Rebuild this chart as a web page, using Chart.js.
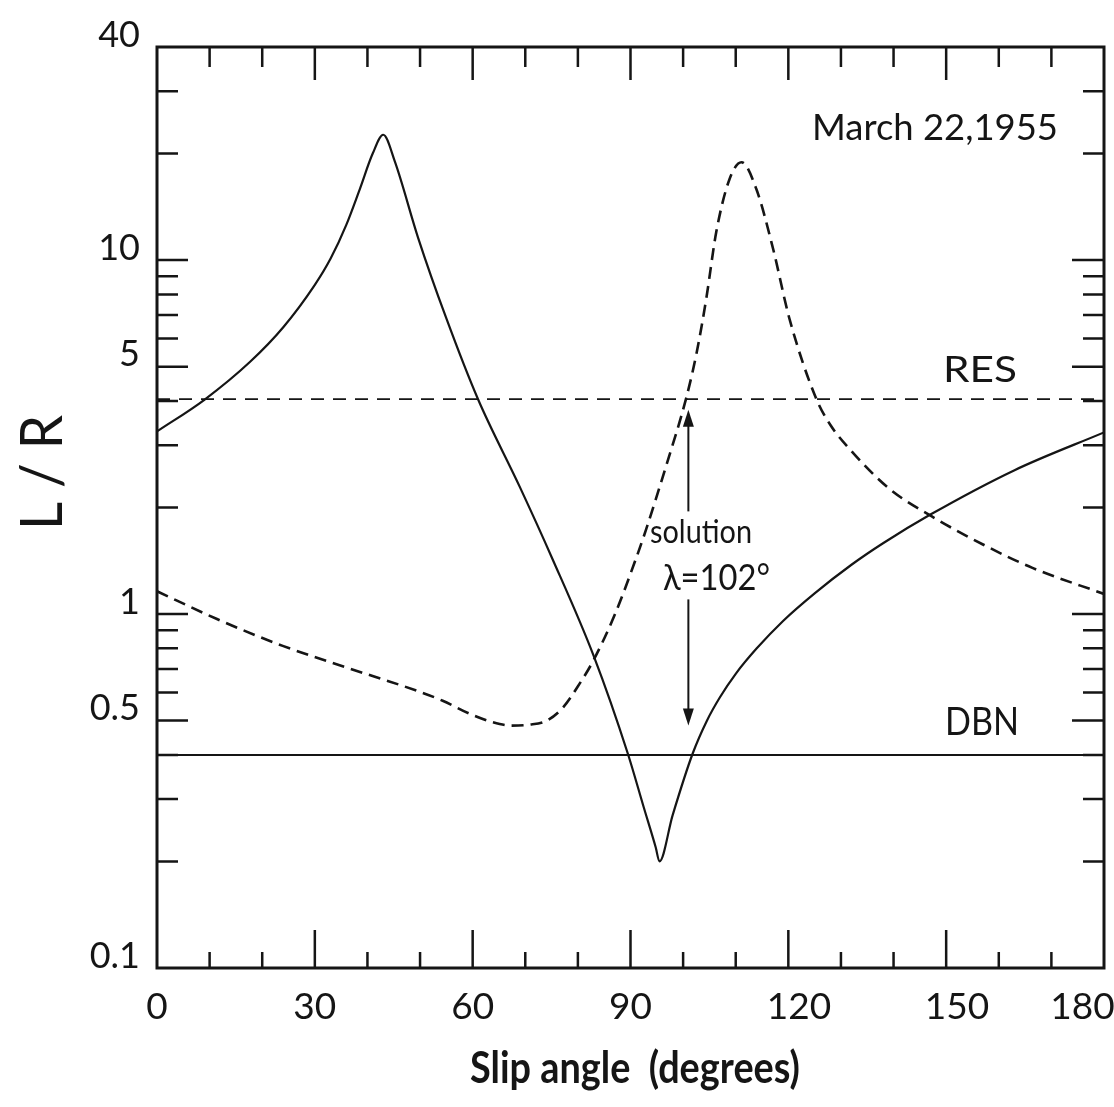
<!DOCTYPE html>
<html><head><meta charset="utf-8">
<script src="https://cdn.jsdelivr.net/npm/chart.js@4.4.1/dist/chart.umd.min.js"></script>
<style>html,body{margin:0;padding:0;background:#fff;} #wrap{width:1114px;height:1107px;}</style>
</head><body><div id="wrap"><canvas id="c" width="1114" height="1107"></canvas></div>
<script>
// ---- data ----
const solidAngle = [0, 9, 17.7, 24, 30, 33, 36, 38.5, 41, 43, 45.2, 49.6, 55, 61, 69, 75, 83, 89.5, 92.5, 94.8, 95.5, 98, 101.8, 104.5, 107, 110, 114, 119, 125, 132, 138, 147, 163, 180];
const solidLR    = [3.28, 4.03, 5.16, 6.46, 8.51, 10.1, 12.6, 15.8, 20.0, 22.6, 19.0, 11.6, 6.84, 4.05, 2.28, 1.45, 0.762, 0.403, 0.285, 0.219, 0.2, 0.27, 0.403, 0.499, 0.582, 0.678, 0.80, 0.956, 1.144, 1.378, 1.585, 1.91, 2.55, 3.26];
const dashedAngle = [0, 11.4, 23.9, 36.7, 49.4, 54.3, 59.4, 63.8, 67.4, 70.8, 74.1, 77.1, 80.3, 82.9, 87, 91.1, 93, 96.8, 100.6, 102.6, 104.4, 106.3, 108.8, 111.1, 113.9, 117.1, 120.2, 125.3, 128, 131.6, 139.2, 147.2, 156.9, 166.4, 180];
const dashedLR    = [1.16, 0.968, 0.813, 0.701, 0.607, 0.569, 0.523, 0.495, 0.484, 0.487, 0.50, 0.543, 0.635, 0.737, 0.995, 1.442, 1.74, 2.63, 4.08, 5.5, 7.78, 12.0, 16.9, 18.9, 15.9, 10.77, 6.84, 4.06, 3.42, 2.93, 2.26, 1.89, 1.575, 1.35, 1.14];
const resLevel = 4.05;
const dbnLevel = 0.40;
const solutionAngle = 101;
const upArrowLR = [1.95, 3.78];     // tail, tip
const downArrowLR = [1.10, 0.484];  // tail, tip
const xTickValues = [10, 20, 30, 40, 50, 60, 70, 80, 90, 100, 110, 120, 130, 140, 150, 160, 170];
const xMajorValues = [30, 60, 90, 120, 150];
const xLabelText = {0: '0', 30: '30', 60: '60', 90: '90', 120: '\u2007120', 150: '\u2007150', 180: '180\u2007\u2007'};
const yTickValues = [0.1, 0.2, 0.3, 0.4, 0.5, 0.6, 0.7, 0.8, 0.9, 1, 2, 3, 4, 5, 6, 7, 8, 9, 10, 20, 30, 40];
const yMajorValues = [0.5, 1, 5, 10];
const yLabelText = {'0.1': '0.1', '0.5': '0.5', '1': '1', '5': '5', '10': '10', '40': '40'};

const INK = '#151515';
const FAM = "Lato, 'DejaVu Sans', sans-serif";

function fitText(ctx, txt, capH, width, weight) {
  const size = capH / 0.72;
  ctx.font = `${weight} ${size}px ${FAM}`;
  const w = ctx.measureText(txt).width;
  ctx.save();
  ctx.scale(width / w, 1);
  ctx.textBaseline = 'alphabetic';
  ctx.textAlign = 'left';
  ctx.fillText(txt, 0, 0);
  ctx.restore();
}
function textAt(ctx, txt, left, baseline, capH, width, weight) {
  ctx.save(); ctx.translate(left, baseline); fitText(ctx, txt, capH, width, weight); ctx.restore();
}

const framePlugin = {
  id: 'frameTicks',
  afterDatasetsDraw(chart) {
    const {ctx, chartArea: {left, right, top, bottom}, scales: {x, y}} = chart;
    ctx.save();
    ctx.strokeStyle = INK;
    ctx.lineWidth = 2.5;
    ctx.lineCap = 'butt';
    ctx.beginPath();
    xTickValues.forEach(v => {
      const px = x.getPixelForValue(v);
      const major = xMajorValues.includes(v);
      ctx.moveTo(px, bottom); ctx.lineTo(px, bottom - (major ? 38 : 16));
      ctx.moveTo(px, top); ctx.lineTo(px, top + (major ? 33 : 20));
    });
    yTickValues.forEach(v => {
      if (v === 0.1 || v === 40) return;
      const py = y.getPixelForValue(v);
      const major = yMajorValues.includes(v);
      ctx.moveTo(left, py); ctx.lineTo(left + (major ? 31 : 21), py);
      ctx.moveTo(right, py); ctx.lineTo(right - (major ? 32 : 21), py);
    });
    ctx.stroke();
    ctx.lineWidth = 3;
    ctx.strokeRect(left, top, right - left, bottom - top);

    // solution arrows
    const ax = x.getPixelForValue(solutionAngle);
    ctx.lineWidth = 2;
    const arrow = (fromV, toV) => {
      const y0 = y.getPixelForValue(fromV), y1 = y.getPixelForValue(toV);
      const dir = Math.sign(y1 - y0);
      ctx.beginPath(); ctx.moveTo(ax, y0); ctx.lineTo(ax, y1 - dir * 12); ctx.stroke();
      ctx.beginPath(); ctx.moveTo(ax, y1); ctx.lineTo(ax - 5.5, y1 - dir * 17); ctx.lineTo(ax + 5.5, y1 - dir * 17); ctx.closePath();
      ctx.fillStyle = INK; ctx.fill();
    };
    arrow(upArrowLR[0], upArrowLR[1]);
    arrow(downArrowLR[0], downArrowLR[1]);

    // text annotations
    ctx.fillStyle = INK;
    textAt(ctx, 'March 22,1955', 812, 140, 27, 246, 400);
    textAt(ctx, 'RES', 943, 382, 27, 74, 400);
    textAt(ctx, 'DBN', 945, 735, 28, 74, 400);
    textAt(ctx, 'solution', 650, 543, 23, 102, 400);
    textAt(ctx, '\u03BB=102\u00B0', 663, 590, 27, 107, 400);
    // axis titles
    ctx.save(); ctx.translate(62, 530); ctx.rotate(-Math.PI / 2);
    fitText(ctx, 'L / R', 42, 115, 400);
    ctx.restore();
    textAt(ctx, 'Slip angle  (degrees)', 470, 1083, 31, 330, 700);
    ctx.restore();
  }
};

const toXY = (xs, ys) => xs.map((a, i) => ({x: a, y: ys[i]}));

new Chart(document.getElementById('c').getContext('2d'), {
  type: 'line',
  data: {
    datasets: [
      {label: 'solid', data: toXY(solidAngle, solidLR), borderColor: INK, borderWidth: 2.2, pointRadius: 0, cubicInterpolationMode: 'monotone', fill: false},
      {label: 'dashed', data: toXY(dashedAngle, dashedLR), borderColor: INK, borderWidth: 2.6, borderDash: [12, 7], pointRadius: 0, cubicInterpolationMode: 'monotone', fill: false},
      {label: 'RES', data: toXY([0, 180], [resLevel, resLevel]), borderColor: INK, borderWidth: 1.8, borderDash: [13, 9], pointRadius: 0, fill: false},
      {label: 'DBN', data: toXY([0, 180], [dbnLevel, dbnLevel]), borderColor: INK, borderWidth: 2, pointRadius: 0, fill: false}
    ]
  },
  options: {
    responsive: false, animation: false, devicePixelRatio: 1,
    layout: {padding: {top: 47, right: 10, left: 0, bottom: 0}},
    plugins: {legend: {display: false}, tooltip: {enabled: false}, title: {display: false}},
    scales: {
      x: {
        type: 'linear', min: 0, max: 180,
        ticks: {stepSize: 30, padding: 17, autoSkip: false, maxRotation: 0, color: INK,
          font: {family: FAM, size: 37},
          callback: v => (xLabelText[v] !== undefined ? xLabelText[v] : '')},
        grid: {display: false, drawTicks: false}, border: {display: false},
        afterFit: s => { s.height = 139; s.paddingLeft = 0; s.paddingRight = 0; }
      },
      y: {
        type: 'logarithmic', min: 0.1, max: 40,
        afterBuildTicks: s => { s.ticks = yTickValues.map(v => ({value: v})); },
        ticks: {autoSkip: false, padding: 17, color: INK,
          font: {family: FAM, size: 36, lineHeight: '24px'},
          callback: v => (yLabelText[String(v)] ? [yLabelText[String(v)], ''] : '')},
        grid: {display: false, drawTicks: false}, border: {display: false},
        afterFit: s => { s.width = 157; s.paddingTop = 0; s.paddingBottom = 0; }
      }
    }
  },
  plugins: [framePlugin]
});
</script></body></html>
